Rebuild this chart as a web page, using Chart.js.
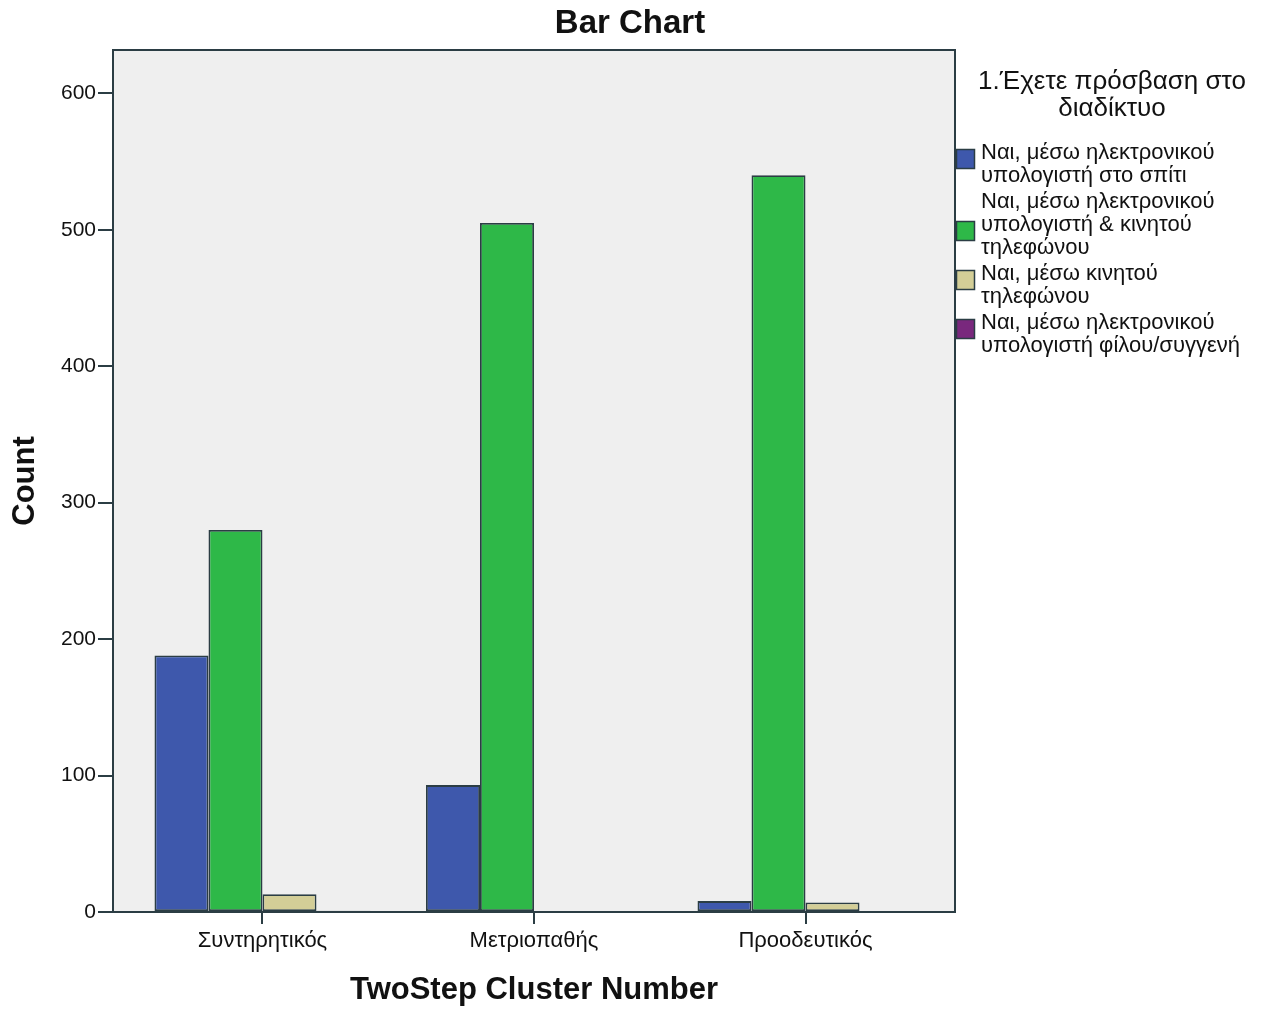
<!DOCTYPE html>
<html>
<head>
<meta charset="utf-8">
<script src="https://cdn.jsdelivr.net/npm/chart.js@4.4.1/dist/chart.umd.min.js"></script>
<style>
  html, body { margin: 0; background: #fff; }
</style>
</head>
<body>
<canvas id="chart" width="1276" height="1009"></canvas>
<script>
// data
const clusters = ['Συντηρητικός', 'Μετριοπαθής', 'Προοδευτικός'];
const seriesLines = [
  ['Ναι, μέσω ηλεκτρονικού', 'υπολογιστή στο σπίτι'],
  ['Ναι, μέσω ηλεκτρονικού', 'υπολογιστή & κινητού', 'τηλεφώνου'],
  ['Ναι, μέσω κινητού', 'τηλεφώνου'],
  ['Ναι, μέσω ηλεκτρονικού', 'υπολογιστή φίλου/συγγενή']
];
const homePc = [188, 93, 8];
const pcAndMobile = [280, 505, 540];
const mobileOnly = [13, 0, 7];
const friendPc = [1, 0, 0];
const seriesColors = ['#3e58ac', '#2eb848', '#d3ce97', '#79287d'];
const yTicks = [0, 100, 200, 300, 400, 500, 600];
const legendTitle = ['1.Έχετε πρόσβαση στο', 'διαδίκτυο'];

Chart.defaults.font.family = "'Liberation Sans', Arial, sans-serif";
Chart.defaults.color = '#111';

const edge = '#2b3d44';

// plot background, frame, title and legend
const framePlugin = {
  id: 'frame',
  beforeDraw(chart) {
    const { ctx, chartArea: a } = chart;
    ctx.save();
    ctx.fillStyle = '#efefef';
    ctx.fillRect(a.left, a.top, a.right - a.left, a.bottom - a.top);
    ctx.strokeStyle = edge;
    ctx.lineWidth = 2;
    ctx.strokeRect(a.left, a.top, a.right - a.left, a.bottom - a.top);
    ctx.restore();
  },
  afterDraw(chart) {
    const ctx = chart.ctx;
    ctx.save();
    ctx.fillStyle = '#111';
    ctx.textAlign = 'center';
    ctx.textBaseline = 'middle';
    ctx.font = "bold 33px 'Liberation Sans', Arial";
    ctx.fillText('Bar Chart', 630, 24);

    ctx.font = "26px 'Liberation Sans', Arial";
    legendTitle.forEach((t, i) => ctx.fillText(t, 1112, 82 + i * 27));

    ctx.textAlign = 'left';
    ctx.font = "22px 'Liberation Sans', Arial";
    let y = 153;
    chart.data.datasets.forEach(ds => {
      const lines = ds.lines;
      const boxC = y + (lines.length - 2) * 23 + 6;
      ctx.fillStyle = ds.backgroundColor;
      ctx.fillRect(956, boxC - 10, 19, 20);
      ctx.strokeStyle = edge;
      ctx.lineWidth = 1.5;
      ctx.strokeRect(956.5, boxC - 9.5, 18, 19);
      ctx.fillStyle = '#111';
      lines.forEach((l, i) => ctx.fillText(l, 981, y + i * 23));
      y += lines.length * 23 + 3;
    });
    ctx.restore();
  }
};

const valueSets = [homePc, pcAndMobile, mobileOnly, friendPc];

new Chart(document.getElementById('chart'), {
  type: 'bar',
  data: {
    datasets: valueSets.map((vals, k) => ({
      label: seriesLines[k].join(' '),
      lines: seriesLines[k],
      data: vals.map((v, i) => ({ x: i, y: v })),
      backgroundColor: seriesColors[k],
      borderColor: edge,
      borderWidth: 1.8,
      borderSkipped: false,
      barPercentage: 1,
      categoryPercentage: 0.7956
    }))
  },
  options: {
    responsive: false,
    animation: false,
    layout: { padding: { top: 50, right: 321, left: 0, bottom: 0 } },
    plugins: {
      legend: { display: false },
      title: { display: false },
      tooltip: { enabled: false }
    },
    scales: {
      x: {
        type: 'linear',
        min: -0.5506,
        max: 2.5506,
        offset: false,
        afterBuildTicks: s => { s.ticks = clusters.map((_, i) => ({ value: i })); },
        afterFit: s => { s.height = 97; },
        grid: { drawOnChartArea: false, offset: false, tickLength: 12, color: edge, lineWidth: 2 },
        border: { display: false },
        ticks: {
          callback: v => clusters[v],
          font: { size: 22 },
          padding: 4,
          maxRotation: 0,
          autoSkip: false
        },
        title: {
          display: true,
          text: 'TwoStep Cluster Number',
          font: { size: 31, weight: 'bold' },
          padding: 0
        }
      },
      y: {
        min: 0,
        max: 631.7,
        afterBuildTicks: s => { s.ticks = yTicks.map(v => ({ value: v })); },
        afterFit: s => { s.width = 113; },
        grid: { drawOnChartArea: false, tickLength: 15, color: edge, lineWidth: 2 },
        border: { display: false },
        ticks: { font: { size: 21 }, padding: 2 },
        title: {
          display: true,
          text: 'Count',
          font: { size: 31, weight: 'bold' },
          padding: { top: 7, bottom: 0 }
        }
      }
    }
  },
  plugins: [framePlugin]
});
</script>
</body>
</html>
